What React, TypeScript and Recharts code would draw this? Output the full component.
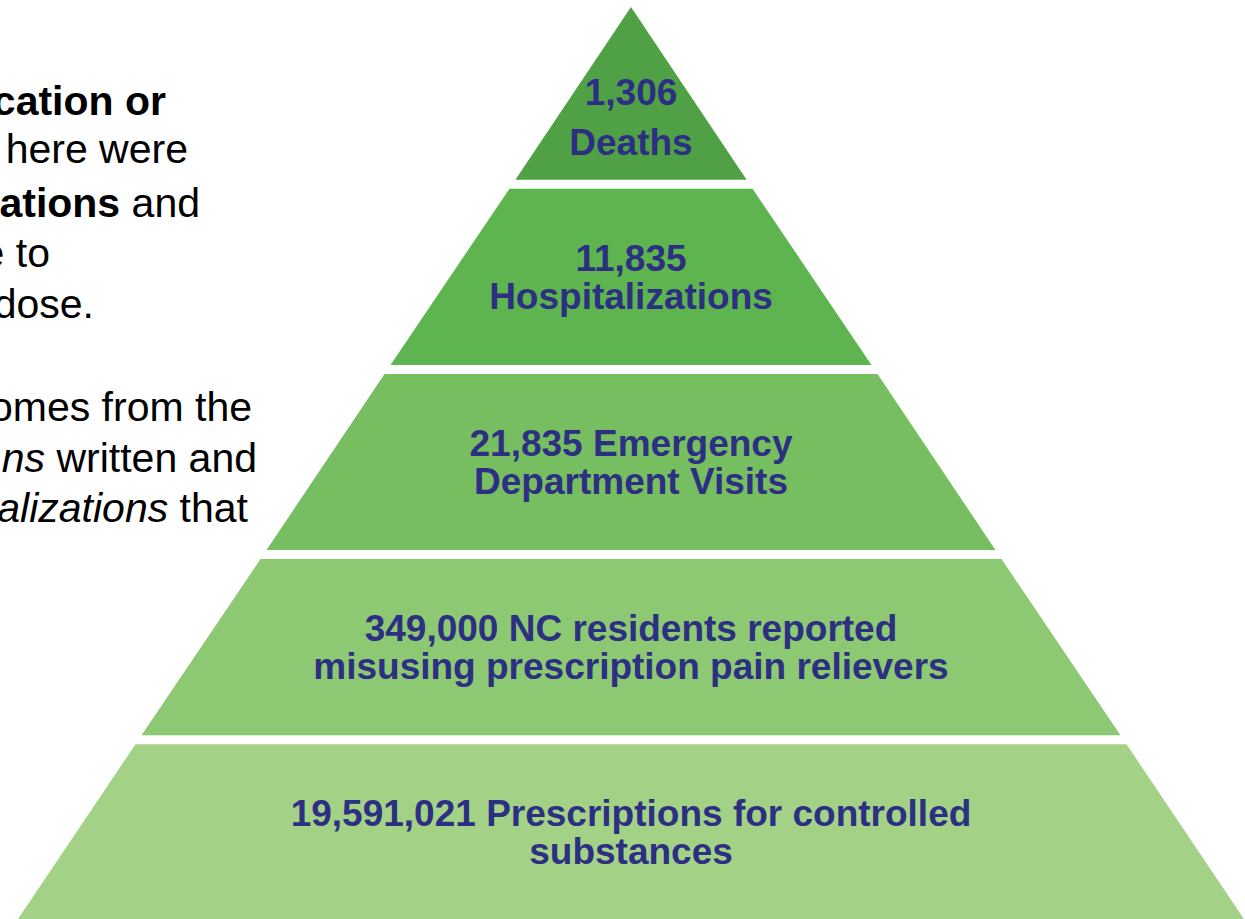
import React from 'react';
import { FunnelChart, Funnel } from 'recharts';

// tiers, top (apex) to bottom
const tierNames = ['Deaths', 'Hospitalizations', 'Emergency Department Visits', 'NC residents misusing pain relievers', 'Prescriptions for controlled substances'];
const tierLines = [
  ['1,306', 'Deaths'],
  ['11,835', 'Hospitalizations'],
  ['21,835 Emergency', 'Department Visits'],
  ['349,000 NC residents reported', 'misusing prescription pain relievers'],
  ['19,591,021 Prescriptions for controlled', 'substances'],
];
// width of each tier at its lower edge (px)
const tierWidths = [237, 487, 735, 985, 1234];
const tierColors = ['#50A146', '#5EB44F', '#77BE61', '#8DC872', '#A3D286'];

const GAP = 9;
const APEX_DROP = 8;
const LABEL_FONT = '"Liberation Sans", Arial, sans-serif';

// funnel is drawn reversed, so it wants the bottom tier first
const data = tierNames
  .map((name, i) => ({ name, width: tierWidths[i], lines: tierLines[i], color: tierColors[i] }))
  .reverse();

const TierShape = (props: any) => {
  const { x, y, upperWidth, lowerWidth, height, payload } = props;
  const entry = payload && payload.lines ? payload : props;
  const cx = x + upperWidth / 2;
  const isApex = upperWidth <= 0.5;
  const botY = y + height - GAP / 2;
  const widthAt = (py: number) => upperWidth + ((lowerWidth - upperWidth) * (py - y)) / height;
  const wb = widthAt(botY);
  let points: string;
  if (isApex) {
    points = `${cx},${y + APEX_DROP} ${cx + wb / 2},${botY} ${cx - wb / 2},${botY}`;
  } else {
    const topY = y + GAP / 2;
    const wt = widthAt(topY);
    points = `${cx - wt / 2},${topY} ${cx + wt / 2},${topY} ${cx + wb / 2},${botY} ${cx - wb / 2},${botY}`;
  }
  const mid = y + height / 2;
  const offsets = isApex ? [13, 63] : [-6, 32];
  return (
    <g>
      <polygon points={points} fill={entry.color || props.fill} stroke="none" />
      {(entry.lines || []).map((t: string, i: number) => (
        <text
          key={i}
          x={cx}
          y={mid + offsets[i]}
          textAnchor="middle"
          fill="#2D2F82"
          fontFamily={LABEL_FONT}
          fontWeight="bold"
          fontSize={37}
        >
          {t}
        </text>
      ))}
    </g>
  );
};

const SideText = () => (
  <svg width={300} height={560} style={{ position: 'absolute', left: 0, top: 0 }}>
    <g fontFamily={LABEL_FONT} fontSize={41} fill="#000" textAnchor="end">
      <text x={166} y={115}>
        <tspan fontWeight="bold">cation or</tspan>
      </text>
      <text x={188} y={163}>here were</text>
      <text x={200} y={217}>
        <tspan fontWeight="bold">ations</tspan>
        <tspan>{' and'}</tspan>
      </text>
      <text x={50} y={267}>e to</text>
      <text x={94} y={318}>dose.</text>
      <text x={252} y={421}>omes from the</text>
      <text x={257} y={472}>
        <tspan fontStyle="italic">ns</tspan>
        <tspan>{' written and'}</tspan>
      </text>
      <text x={248} y={522}>
        <tspan fontStyle="italic">alizations</tspan>
        <tspan>{' that'}</tspan>
      </text>
    </g>
  </svg>
);

export default function App() {
  return (
    <div style={{ position: 'fixed', left: 0, top: 0, width: 1245, height: 919, overflow: 'hidden', background: '#fff' }}>
      <div style={{ position: 'absolute', left: 13.5, top: -1 }}>
        <FunnelChart width={1234} height={926} margin={{ top: 0, right: 0, bottom: 0, left: 0 }}>
          <Funnel
            data={data}
            dataKey="width"
            nameKey="name"
            reversed
            lastShapeType="triangle"
            shape={<TierShape />}
            isAnimationActive={false}
          />
        </FunnelChart>
      </div>
      <SideText />
    </div>
  );
}
